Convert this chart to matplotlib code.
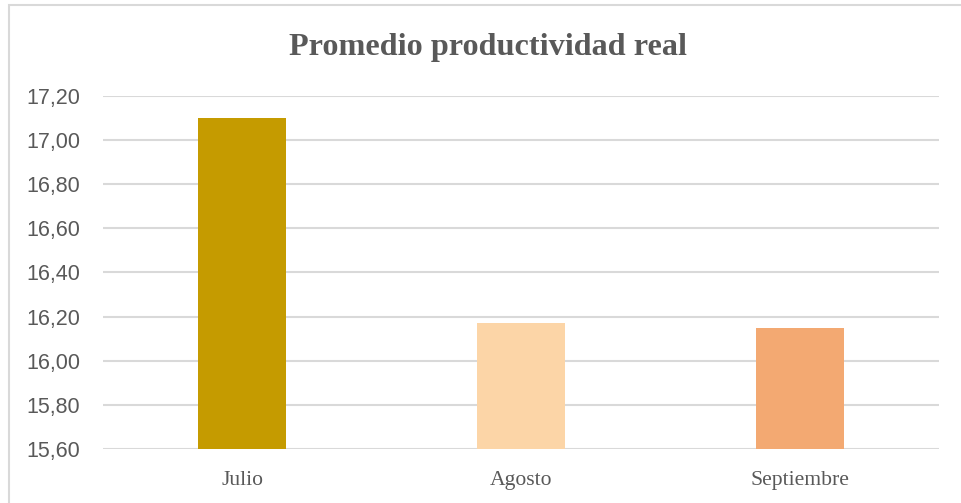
import matplotlib
matplotlib.use("Agg")
import matplotlib.pyplot as plt
from matplotlib.patches import Rectangle
from matplotlib.ticker import FuncFormatter, MultipleLocator

months = ["Julio", "Agosto", "Septiembre"]
productivity = [17.10, 16.17, 16.15]
bar_colors = ["#C59B00", "#FCD5A7", "#F3A972"]
title = "Promedio productividad real"

W, H, DPI = 961, 503, 100
fig = plt.figure(figsize=(W / DPI, H / DPI), dpi=DPI)
fig.patch.set_facecolor("white")

# chart-area frame (top and left edges visible)
fig.patches.append(Rectangle((8.5 / W, -0.1), 1.2, (H - 5.5) / H + 0.1,
                             transform=fig.transFigure, fill=False,
                             edgecolor="#D9D9D9", linewidth=1.5))

ax = fig.add_axes([103 / W, 1 - 449.3 / H, (939 - 103) / W, (449.3 - 95.7) / H])
x = range(len(months))
ax.bar(x, productivity, width=0.315, color=bar_colors, zorder=3)

ax.set_xlim(-0.5, len(months) - 0.5)
ax.set_ylim(15.6, 17.2)
ax.yaxis.set_major_locator(MultipleLocator(0.2))
ax.yaxis.set_major_formatter(FuncFormatter(lambda v, p: f"{v:.2f}".replace(".", ",")))
ax.grid(axis="y", color="#D9D9D9", linewidth=1.5, zorder=0)
ax.set_axisbelow(True)
for s in ax.spines.values():
    s.set_visible(False)
ax.tick_params(axis="both", length=0)
ax.tick_params(axis="y", pad=16.5, labelsize=15.5, labelcolor="#595959")
ax.set_xticks(list(x))
ax.set_xticklabels(months, fontfamily="Liberation Serif", fontsize=15.6, color="#595959")
ax.tick_params(axis="x", pad=15.5)
for lbl in ax.get_yticklabels():
    lbl.set_fontfamily("Liberation Sans")

fig.text(488 / W, 1 - 47 / H, title, ha="center", va="center",
         fontfamily="Liberation Serif", fontweight="bold", fontsize=23.2, color="#595959")

fig.savefig("out.png", dpi=DPI, facecolor="white")
